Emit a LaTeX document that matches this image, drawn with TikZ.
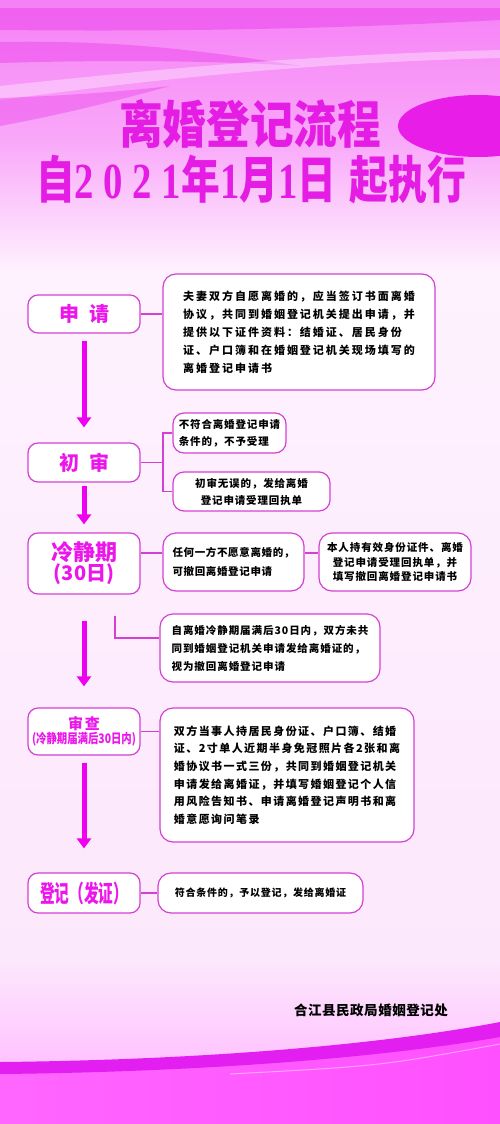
\documentclass[tikz,border=0pt]{standalone}
\usepackage{fontspec}
\usepackage{graphicx}
\usetikzlibrary{arrows.meta}
\newfontfamily\cjk{Noto Sans CJK SC}
\newfontfamily\dg{Liberation Serif}
\newcommand\bfnt[3]{\cjk\bfseries\fontsize{#1}{#2}\selectfont\addfontfeature{LetterSpace=#3}}
\definecolor{boxc}{RGB}{212,64,212}
\definecolor{arrc}{RGB}{240,0,240}
\definecolor{titc}{RGB}{228,28,228}
\definecolor{labc}{RGB}{236,22,236}
\definecolor{bandc}{RGB}{226,30,240}
\definecolor{bfillL}{RGB}{255,102,255}
\definecolor{bfillR}{RGB}{255,80,255}
\definecolor{bgA}{RGB}{246,128,246}
\definecolor{bgB}{RGB}{249,168,249}
\definecolor{bgC}{RGB}{254,242,254}
\definecolor{bgD}{RGB}{252,232,252}
\definecolor{bgE}{RGB}{255,190,255}
\definecolor{magw}{RGB}{236,70,236}
\definecolor{ellc}{RGB}{232,30,232}
\tikzset{
  stepbox/.style={draw=boxc, line width=1.2pt, fill=white, rounded corners=10pt, inner sep=0pt, text=labc, font=\cjk\bfseries},
  infobox/.style={draw=boxc, line width=1.2pt, fill=white, rounded corners=13pt, inner sep=0pt, font=\cjk\bfseries},
  link/.style={draw=boxc, line width=1.2pt},
  flow/.style={draw=arrc, line width=5pt, -{Triangle[width=14pt,length=10pt]}},
}
\newcommand\titleA{\resizebox*{262pt}{49pt}{\cjk\bfseries 离婚登记流程}}
\newcommand\titleB{\resizebox*{430pt}{49pt}{\cjk\bfseries 自{\dg\bfseries 2 0 2 1}年{\dg\bfseries 1}月{\dg\bfseries 1}日\hspace{0.35em}起执行}}
\begin{document}
\begin{tikzpicture}[x=1pt,y=-1pt]
\useasboundingbox (0,0) rectangle (500,1124);
% background
\fill[top color=bgA, bottom color=bgB] (0,0) rectangle (500,141);
\fill[top color=bgB, bottom color=bgC] (0,140) rectangle (500,271);
\fill[top color=bgC, bottom color=bgD] (0,270) rectangle (500,961);
\fill[top color=bgD, bottom color=bgE] (0,960) rectangle (500,1075);
% top waves
\fill[magw, opacity=0.55] (0,8) -- (500,8) -- (500,20) .. controls (350,28) and (200,32) .. (0,30) -- cycle;
\fill[magw, opacity=0.5] (0,42) .. controls (120,40) and (200,50) .. (300,66) .. controls (200,60) and (100,60) .. (0,63) -- cycle;
\fill[white, opacity=0.35] (0,86) .. controls (150,70) and (300,55) .. (500,50) -- (500,58) .. controls (300,63) and (150,80) .. (0,100) -- cycle;
\fill[magw, opacity=0.45] (0,98) .. controls (60,96) and (120,92) .. (170,86) .. controls (120,100) and (60,115) .. (0,126) -- cycle;
\fill[ellc] (478,126) ellipse [x radius=80, y radius=31];
% bottom waves
\fill[left color=bfillL, right color=bfillR] (0,1068) .. controls (200,1064) and (380,1052) .. (500,1030) -- (500,1124) -- (0,1124) -- cycle;
\fill[bandc] (0,1062) .. controls (200,1060) and (380,1045) .. (500,1022) -- (500,1037) .. controls (380,1058) and (200,1072) .. (0,1074) -- cycle;
\draw[white, opacity=0.45, line width=1pt] (230,1074) .. controls (380,1066) .. (500,1044);
% title
\node[text=titc, inner sep=0pt] (title1) at (250,123.5) {\titleA};
\node[text=titc, inner sep=0pt] (title2) at (251,180) {\titleB};
% step boxes
\node[stepbox, minimum width=112pt, minimum height=38pt] (apply) at (84,314) {\fontsize{20}{20}\selectfont 申\hspace{10pt}请};
\node[stepbox, minimum width=112pt, minimum height=39pt] (review) at (84,462.5) {\fontsize{20}{20}\selectfont 初\hspace{10pt}审};
\node[stepbox, minimum width=112pt, minimum height=61pt, align=center] (cool) at (84,563.5) {\fontsize{22}{26}\selectfont 冷静期\\\fontsize{20}{26}\selectfont (30日)};
\node[stepbox, minimum width=112pt, minimum height=47pt, align=center] (exam) at (84,731.5) {\fontsize{15}{19}\selectfont 审\hspace{2pt}查\\\resizebox*{104pt}{14pt}{(冷静期届满后30日内)}};
\node[stepbox, minimum width=112pt, minimum height=40pt] (issue) at (84,893) {\resizebox*{88pt}{23pt}{登记（发证）}};
% info boxes
\node[infobox, minimum width=272pt, minimum height=116pt, align=left, font=\bfnt{11}{18}{18}] (i1) at (299,332) {夫妻双方自愿离婚的，应当签订书面离婚\\协议，共同到婚姻登记机关提出申请，并\\提供以下证件资料：结婚证、居民身份\\证、户口簿和在婚姻登记机关现场填写的\\离婚登记申请书};
\node[infobox, rounded corners=11pt, minimum width=113pt, minimum height=40pt, align=left, font=\bfnt{10.5}{17}{8}] (rA) at (229.5,433) {不符合离婚登记申请\\条件的，不予受理};
\node[infobox, rounded corners=11pt, minimum width=157pt, minimum height=39pt, align=center, font=\bfnt{10.5}{17}{8}] (rB) at (251.5,491.5) {初审无误的，发给离婚\\登记申请受理回执单};
\node[infobox, minimum width=141pt, minimum height=58pt, align=left, font=\bfnt{10.5}{19}{6}] (rC) at (233.5,562) {任何一方不愿意离婚的，\\可撤回离婚登记申请};
\node[infobox, minimum width=152pt, minimum height=58pt, align=center, font=\bfnt{10.5}{14.5}{8.5}] (rD) at (395,562) {本人持有效身份证件、离婚\\登记申请受理回执单，并\\填写撤回离婚登记申请书};
\node[infobox, minimum width=220pt, minimum height=68pt, align=left, font=\bfnt{10.5}{18}{9}] (rE) at (270,648) {自离婚冷静期届满后30日内，双方未共\\同到婚姻登记机关申请发给离婚证的，\\视为撤回离婚登记申请};
\node[infobox, minimum width=254pt, minimum height=134pt, align=left, font=\bfnt{11}{17.6}{13}] (rF) at (287,775) {双方当事人持居民身份证、户口簿、结婚\\证、2寸单人近期半身免冠照片各2张和离\\婚协议书一式三份，共同到婚姻登记机关\\申请发给离婚证，并填写婚姻登记个人信\\用风险告知书、申请离婚登记声明书和离\\婚意愿询问笔录};
\node[infobox, minimum width=205pt, minimum height=40pt, align=center, font=\bfnt{10}{14}{7.5}] (rG) at (260.5,893) {符合条件的，予以登记，发给离婚证};
\node[font=\bfnt{13.5}{14}{4}] (footer) at (371,1010) {合江县民政局婚姻登记处};
% connectors
\coordinate (jx) at (163,0);
\coordinate (cl) at (0,553);
\coordinate (ctop) at (115,616);
\coordinate (cm) at (0,638);
\draw[link] (apply.east) -- (apply.east -| i1.west);
\draw[link] (review.east) -- (review.east -| jx);
\draw[link] (rA.west) -- (rA.west -| jx) -- (rB.west -| jx) -- (rB.west);
\draw[link] (cool.east |- cl) -- (rC.west |- cl);
\draw[link] (rC.east |- cl) -- (rD.west |- cl);
\draw[link] (ctop) |- (rE.west |- cm);
\draw[link] (exam.east) -- (exam.east -| rF.west);
\draw[link] (issue.east) -- (rG.west);
% flow arrows
\draw[flow, shorten <=7pt, shorten >=15pt] (apply.south) -- (review.north);
\draw[flow, shorten <=3pt, shorten >=8pt] (review.south) -- (cool.north);
\draw[flow, shorten <=26pt, shorten >=21pt] (cool.south) -- (exam.north);
\draw[flow, shorten <=7pt, shorten >=24pt] (exam.south) -- (issue.north);
\end{tikzpicture}
\end{document}
